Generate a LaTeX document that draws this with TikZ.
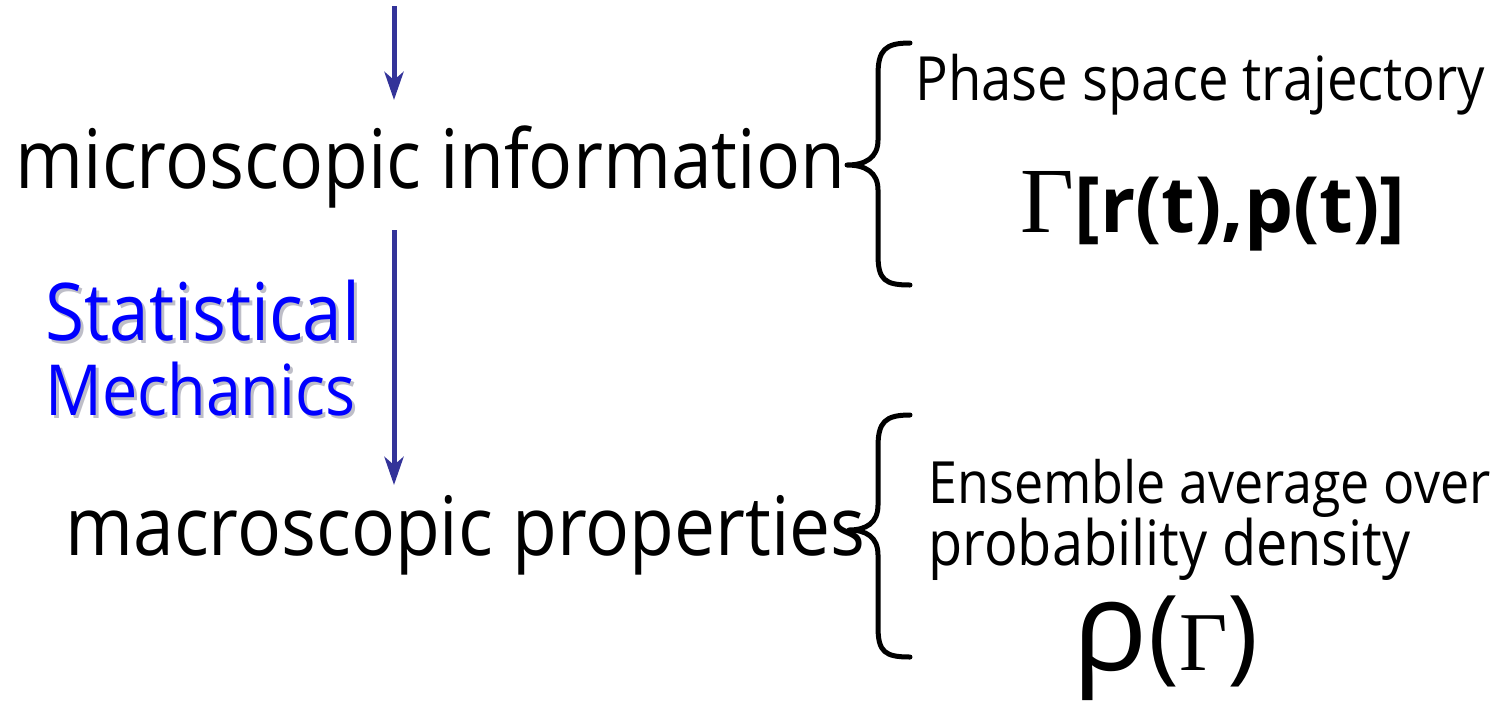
\documentclass[tikz,border=0pt]{standalone}
\usepackage{fontspec}
\setmainfont{Open Sans}
\newfontfamily\gfont{Liberation Serif}
\usetikzlibrary{arrows.meta}
\definecolor{arrowblue}{RGB}{51,51,153}
\definecolor{statblue}{RGB}{0,0,255}
\definecolor{shadowgray}{RGB}{190,190,200}
\newcommand{\fitw}[2]{\scalebox{1}[1.12]{\resizebox{#1}{!}{#2}}}
\newcommand{\fitp}[2]{\resizebox{#1}{!}{#2}}
\begin{document}
\begin{tikzpicture}[x=0.5pt,y=-0.5pt,
  txt/.style={inner sep=0pt, anchor=base west},
  conn/.style={draw=arrowblue, line width=2.5pt, -{Stealth[length=14pt,width=9.5pt,inset=4pt]}},
  brace/.style={draw=black, line width=2.5pt, line cap=round, line join=round}]
\useasboundingbox (0,0) rectangle (1510,703);

% left column texts
\node[txt] (micro) at (15,188) {\fitw{415pt}{microscopic information}};
\node[txt] (macro) at (65,555) {\fitw{400pt}{macroscopic properties}};
\node[txt, text=shadowgray] (statsh) at (48,343) {\fitw{157.5pt}{Statistical}};
\node[txt, text=shadowgray] (mechsh) at (48,418) {\fitw{155pt}{Mechanics}};
\node[txt, text=statblue] (stat) at (45,340) {\fitw{157.5pt}{Statistical}};
\node[txt, text=statblue] (mech) at (45,415) {\fitw{155pt}{Mechanics}};

% arrows
\coordinate (a1s) at (394,6);
\coordinate (a1e) at (394,100);
\coordinate (a2s) at (394,230);
\coordinate (a2e) at (394,485);
\draw[conn] (a1s) -- (a1e);
\draw[conn] (a2s) -- (a2e);

% braces
\draw[brace] (910,43) .. controls (885,43) and (878,50) .. (878,75) -- (878,140)
  .. controls (878,158) and (865,165) .. (847,165)
  .. controls (865,165) and (878,172) .. (878,190) -- (878,255)
  .. controls (878,280) and (885,285) .. (910,285);
\draw[brace] (910,415) .. controls (885,415) and (878,422) .. (878,447) -- (878,505)
  .. controls (878,523) and (866,530) .. (849,530)
  .. controls (866,530) and (878,537) .. (878,555) -- (878,627)
  .. controls (878,652) and (885,657) .. (910,657);

% right column texts
\node[txt] (phase) at (915,100) {\fitw{285pt}{Phase space trajectory}};
\node[txt] (gamma) at (1020,232) {\fitp{192.5pt}{{\gfont\scalebox{1.2}{Γ}}\bfseries[r(t),p(t)]}};
\node[txt] (ens) at (928,503) {\fitw{281pt}{Ensemble average over}};
\node[txt] (prob) at (928,565) {\fitw{241pt}{probability density}};
\node[txt] (rho) at (1072,670) {\fitp{93pt}{\scalebox{1.2}{ρ}({\gfont\scalebox{0.8}{Γ}})}};
\end{tikzpicture}
\end{document}
